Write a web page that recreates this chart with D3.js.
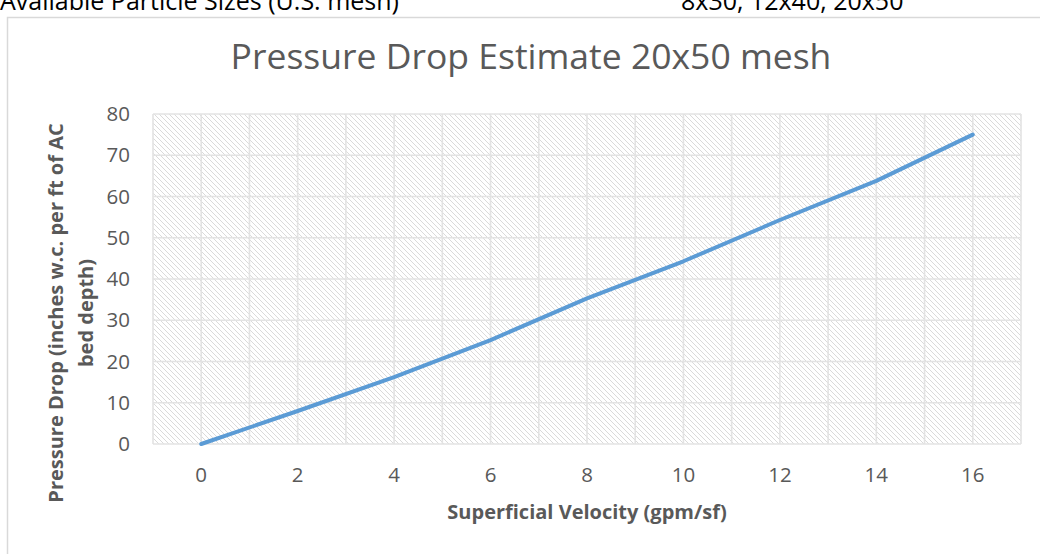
<!DOCTYPE html>
<html>
<head>
<meta charset="utf-8">
<script src="https://cdn.jsdelivr.net/npm/d3@7"></script>
<style>
  body { margin:0; background:#fff; }
  svg { display:block; font-family:"Open Sans", sans-serif; }
</style>
</head>
<body>
<script>
// velocity (gpm/sf) vs pressure drop
var velocity = [0, 2, 4, 6, 8, 10, 12, 14, 16];
var pressure = [0, 8, 16.2, 25.2, 35.3, 44.3, 54.3, 63.8, 75];
var xTicks = [0, 2, 4, 6, 8, 10, 12, 14, 16];
var yTicks = [0, 10, 20, 30, 40, 50, 60, 70, 80];
var title = "Pressure Drop Estimate 20x50 mesh";
var xTitle = "Superficial Velocity (gpm/sf)";
var yTitle = ["Pressure Drop (inches w.c. per ft of AC", "bed depth)"];

var W = 1040, H = 554;
var plot = {left:153, right:1021, top:114, bottom:444};

var svg = d3.select("body").append("svg")
  .attr("width", W).attr("height", H);

// hatch fill of the plot area
var defs = svg.append("defs");
var pat = defs.append("pattern")
  .attr("id", "hatch")
  .attr("patternUnits", "userSpaceOnUse")
  .attr("width", 5).attr("height", 5);
pat.append("rect").attr("width", 5).attr("height", 5).attr("fill", "#fff");
pat.append("path")
  .attr("d", "M-1,-1 L6,6 M-1,4 L1,6 M4,-1 L6,1")
  .attr("stroke", "#d6d6d6")
  .attr("stroke-width", 0.9);

// text cut off above the chart
svg.append("text").attr("x", 0).attr("y", 10)
  .attr("font-size", 25).attr("fill", "#000")
  .text("Available Particle Sizes (U.S. mesh)");
svg.append("text").attr("x", 681).attr("y", 10)
  .attr("font-size", 25).attr("fill", "#000")
  .text("8x30, 12x40, 20x50");

// chart border
svg.append("rect")
  .attr("x", 7.5).attr("y", 17.5)
  .attr("width", 1100).attr("height", 600)
  .attr("fill", "#fff")
  .attr("stroke", "#d9d9d9").attr("stroke-width", 1.5);

var x = d3.scaleLinear().domain([-1, 17]).range([plot.left, plot.right]);
var y = d3.scaleLinear().domain([0, 80]).range([plot.bottom, plot.top]);

svg.append("rect")
  .attr("x", plot.left).attr("y", plot.top)
  .attr("width", plot.right - plot.left)
  .attr("height", plot.bottom - plot.top)
  .attr("fill", "url(#hatch)");

// gridlines
var g = svg.append("g");
g.selectAll(".vg").data(d3.range(-1, 18)).enter().append("line")
  .attr("x1", function(d){ return x(d); }).attr("x2", function(d){ return x(d); })
  .attr("y1", plot.top).attr("y2", plot.bottom)
  .attr("stroke", "#e3e3e3").attr("stroke-width", 1.6);
g.selectAll(".hg").data(yTicks).enter().append("line")
  .attr("x1", plot.left).attr("x2", plot.right)
  .attr("y1", function(d){ return y(d); }).attr("y2", function(d){ return y(d); })
  .attr("stroke", "#e3e3e3").attr("stroke-width", 1.6);

// y tick labels
svg.append("g").selectAll("text").data(yTicks).enter().append("text")
  .attr("x", 130).attr("y", function(d){ return y(d); })
  .attr("dy", "0.35em")
  .attr("text-anchor", "end")
  .attr("font-size", 20.5).attr("fill", "#595959")
  .text(function(d){ return d; });

// x tick labels
svg.append("g").selectAll("text").data(xTicks).enter().append("text")
  .attr("x", function(d){ return x(d); }).attr("y", 482)
  .attr("text-anchor", "middle")
  .attr("font-size", 20.5).attr("fill", "#595959")
  .text(function(d){ return d; });

// the line
var line = d3.line()
  .x(function(d, i){ return x(velocity[i]); })
  .y(function(d){ return y(d); });
svg.append("path").datum(pressure)
  .attr("d", line)
  .attr("fill", "none")
  .attr("stroke", "#5b9bd5")
  .attr("stroke-width", 4)
  .attr("stroke-linecap", "round")
  .attr("stroke-linejoin", "round");

// titles
svg.append("text").attr("x", 531).attr("y", 69)
  .attr("text-anchor", "middle")
  .attr("font-size", 35.5).attr("fill", "#595959")
  .text(title);

svg.append("text").attr("x", 587).attr("y", 519)
  .attr("text-anchor", "middle")
  .attr("font-size", 20).attr("font-weight", "bold").attr("fill", "#595959")
  .text(xTitle);

var yt = svg.append("text")
  .attr("transform", "translate(63,313) rotate(-90)")
  .attr("text-anchor", "middle")
  .attr("font-size", 20).attr("font-weight", "bold").attr("fill", "#595959");
yt.selectAll("tspan").data(yTitle).enter().append("tspan")
  .attr("x", 0).attr("dy", function(d, i){ return i ? 30 : 0; })
  .text(function(d){ return d; });
</script>
</body>
</html>
